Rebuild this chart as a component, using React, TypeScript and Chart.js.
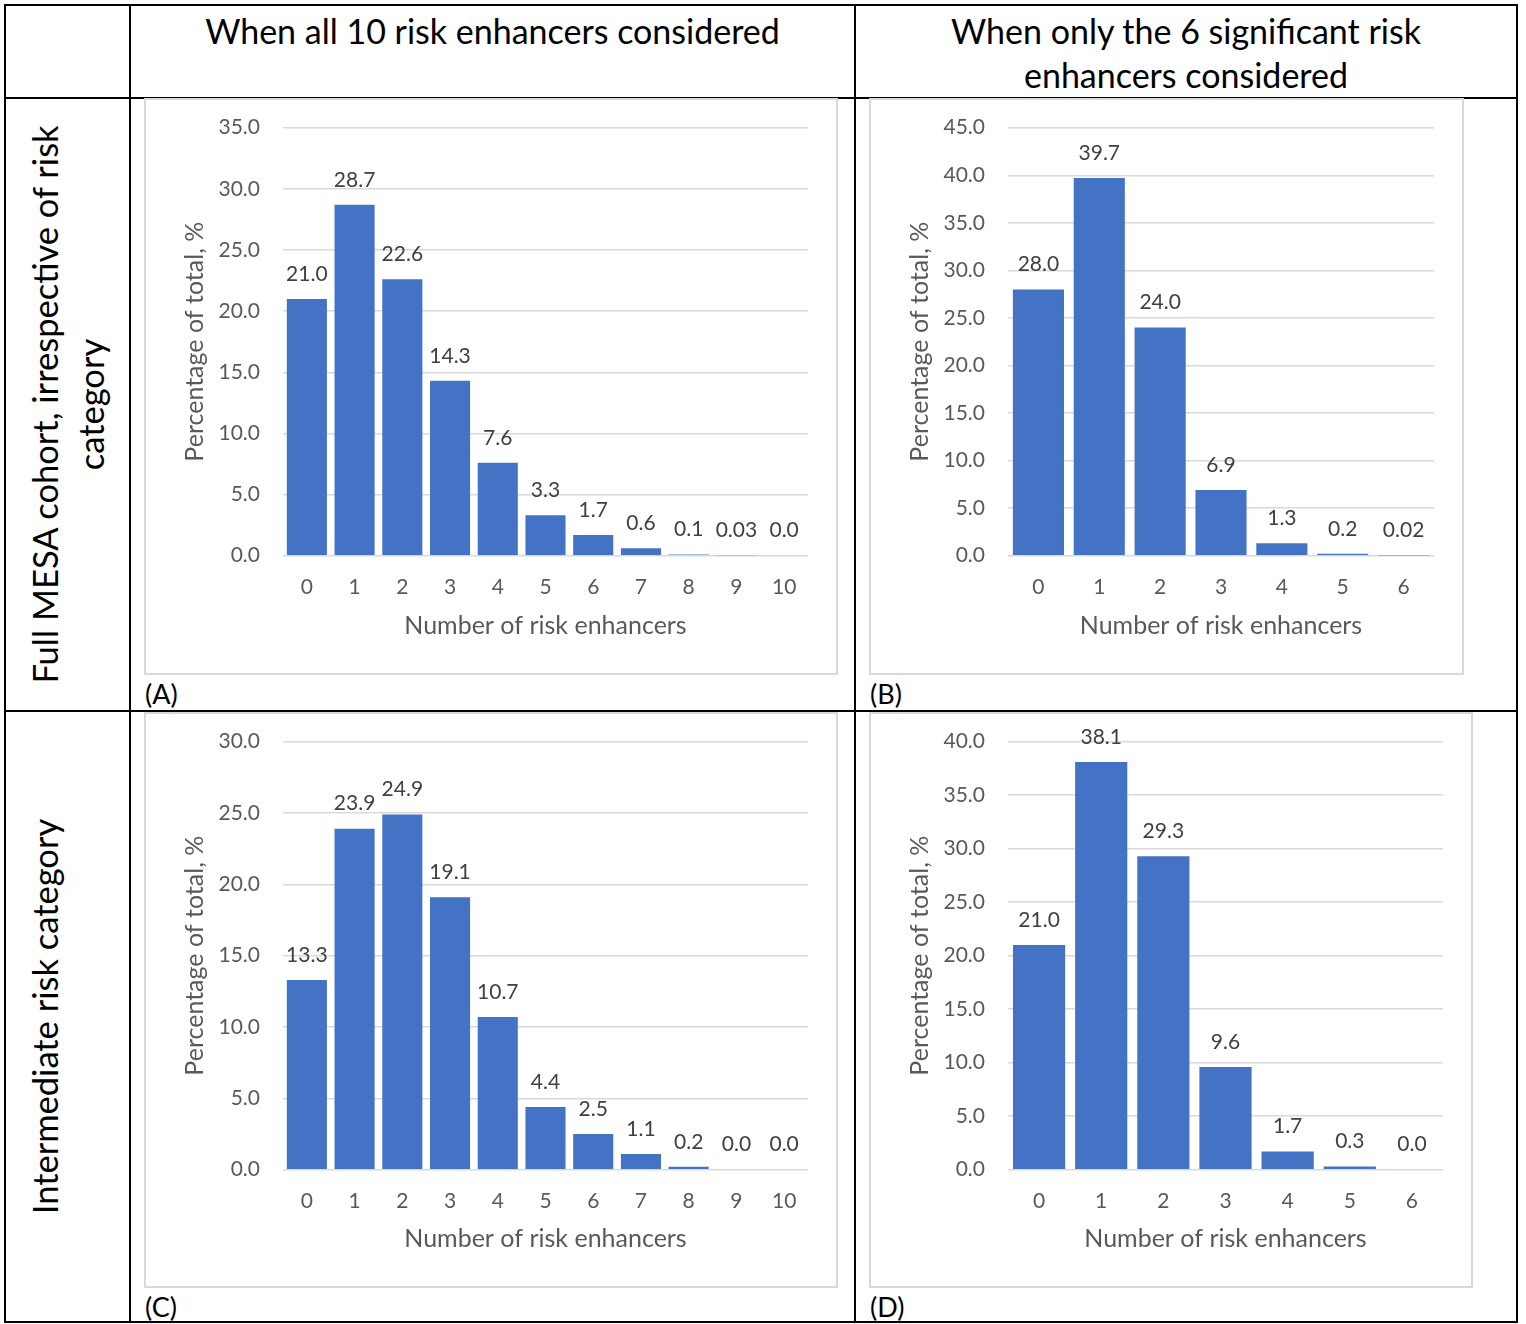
import React, { useEffect, useRef } from "react";
import { Chart, registerables } from "chart.js";

Chart.register(...registerables);

// ---- Data ----
const categoriesAll = ["0", "1", "2", "3", "4", "5", "6", "7", "8", "9", "10"];
const categoriesSig = ["0", "1", "2", "3", "4", "5", "6"];

const fullCohortAll = [21.0, 28.7, 22.6, 14.3, 7.6, 3.3, 1.7, 0.6, 0.1, 0.03, 0.0];
const fullCohortSig = [28.0, 39.7, 24.0, 6.9, 1.3, 0.2, 0.02];
const intermediateAll = [13.3, 23.9, 24.9, 19.1, 10.7, 4.4, 2.5, 1.1, 0.2, 0.0, 0.0];
const intermediateSig = [21.0, 38.1, 29.3, 9.6, 1.7, 0.3, 0.0];

const yMaxA = 35;
const yMaxB = 45;
const yMaxC = 30;
const yMaxD = 40;
const yStep = 5;

const colHeaders = [
  "When all 10 risk enhancers considered",
  "When only the 6 significant risk\nenhancers considered",
];
const rowHeaders = [
  "Full MESA cohort, irrespective of risk\ncategory",
  "Intermediate risk category",
];
const xTitle = "Number of risk enhancers";
const yTitle = "Percentage of total, %";
const panelLetters = ["(A)", "(B)", "(C)", "(D)"];

const FONT = "Lato, 'Open Sans', sans-serif";
const BAR_COLOR = "#4472C4";
const GRID_COLOR = "#d9d9d9";
const TICK_COLOR = "#595959";
const LABEL_COLOR = "#404040";

const fmt = (v: number) => (v > 0 && v < 0.05 ? v.toFixed(2) : v.toFixed(1));

const valueLabels = {
  id: "valueLabels",
  afterDatasetsDraw(chart: any) {
    const ctx = chart.ctx;
    const meta = chart.getDatasetMeta(0);
    const data = chart.data.datasets[0].data as number[];
    ctx.save();
    ctx.font = `21px ${FONT}`;
    ctx.fillStyle = LABEL_COLOR;
    ctx.textAlign = "center";
    ctx.textBaseline = "middle";
    meta.data.forEach((el: any, i: number) => {
      ctx.fillText(fmt(data[i]), el.x, el.y - 25);
    });
    ctx.restore();
  },
};

type Box = { left: number; top: number; width: number; height: number };

const PLOT_TOP = 29.7;
const PLOT_H = 428;
const Y_AXIS_W = 139;

function BarPanel({ labels, values, max, box }: { labels: string[]; values: number[]; max: number; box: Box }) {
  const ref = useRef<HTMLCanvasElement | null>(null);
  useEffect(() => {
    if (!ref.current) return;
    const chart = new Chart(ref.current, {
      type: "bar",
      data: {
        labels,
        datasets: [
          {
            data: values,
            backgroundColor: BAR_COLOR,
            categoryPercentage: 1,
            barPercentage: 0.84,
          },
        ],
      },
      options: {
        responsive: false,
        animation: false,
        layout: { padding: { top: PLOT_TOP, right: 30, left: 0, bottom: 0 } },
        plugins: { legend: { display: false }, tooltip: { enabled: false } },
        scales: {
          x: {
            grid: { display: false, drawTicks: false },
            border: { display: false },
            ticks: { color: TICK_COLOR, font: { family: FONT, size: 21 }, padding: 19 },
            title: {
              display: true,
              text: xTitle,
              color: TICK_COLOR,
              font: { family: FONT, size: 25 },
              padding: { top: 0, bottom: 34 },
            },
            afterFit: (s: any) => {
              s.height = box.height - PLOT_TOP - PLOT_H;
              s.paddingLeft = 0;
              s.paddingRight = 0;
            },
          },
          y: {
            min: 0,
            max,
            ticks: {
              stepSize: yStep,
              color: TICK_COLOR,
              font: { family: FONT, size: 21 },
              padding: 23,
              callback: (v: any) => Number(v).toFixed(1),
            },
            grid: { color: GRID_COLOR, lineWidth: 1.5, drawTicks: false },
            border: { display: false },
            title: {
              display: true,
              text: yTitle,
              color: TICK_COLOR,
              font: { family: FONT, size: 25 },
              padding: { top: 36, bottom: 0 },
            },
            afterFit: (s: any) => {
              s.width = Y_AXIS_W;
              s.paddingTop = 0;
              s.paddingBottom = 0;
            },
          },
        },
      },
      plugins: [valueLabels],
    } as any);
    return () => chart.destroy();
  }, []);
  return (
    <>
      <div
        style={{
          position: "absolute",
          left: box.left,
          top: box.top,
          width: box.width,
          height: box.height,
          border: `2px solid ${GRID_COLOR}`,
          boxSizing: "border-box",
        }}
      />
      <canvas
        ref={ref}
        width={box.width}
        height={box.height}
        style={{ position: "absolute", left: box.left, top: box.top, width: box.width, height: box.height }}
      />
    </>
  );
}

const line = (l: number, t: number, w: number, h: number, key: string) => (
  <div key={key} style={{ position: "absolute", left: l, top: t, width: w, height: h, background: "#000" }} />
);

function RowLabel({ text, cx, cy, cellW, cellH }: { text: string; cx: number; cy: number; cellW: number; cellH: number }) {
  return (
    <div
      style={{
        position: "absolute",
        left: cx - cellH / 2,
        top: cy - cellW / 2,
        width: cellH,
        height: cellW,
        transform: "rotate(-90deg)",
        transformOrigin: "50% 50%",
        boxSizing: "border-box",
        paddingTop: 17,
        textAlign: "center",
        fontFamily: FONT,
        fontSize: 34.5,
        lineHeight: "46px",
        color: "#000",
        whiteSpace: "pre-line",
      }}
    >
      {text}
    </div>
  );
}

export default function App() {
  const boxA = { left: 144, top: 98, width: 694, height: 577 };
  const boxB = { left: 869, top: 98, width: 595, height: 577 };
  const boxC = { left: 144, top: 712, width: 694, height: 576 };
  const boxD = { left: 869, top: 712, width: 604, height: 576 };
  const headerStyle: React.CSSProperties = {
    position: "absolute",
    top: 9,
    textAlign: "center",
    fontFamily: FONT,
    fontSize: 34,
    lineHeight: "44px",
    whiteSpace: "pre-line",
    color: "#000",
  };
  return (
    <div style={{ position: "absolute", left: 0, top: 0, width: 1526, height: 1324, background: "#fff", overflow: "hidden" }}>
      {/* table lines */}
      {line(4, 4, 2, 1319, "v0")}
      {line(129, 4, 2, 1319, "v1")}
      {line(854, 4, 2, 1319, "v2")}
      {line(1516, 4, 2, 1319, "v3")}
      {line(4, 4, 1514, 2, "h0")}
      {line(4, 97, 1514, 2, "h1")}
      {line(4, 710, 1514, 2, "h2")}
      {line(4, 1321, 1514, 2, "h3")}

      {/* column headers */}
      <div style={{ ...headerStyle, left: 130, width: 725 }}>{colHeaders[0]}</div>
      <div style={{ ...headerStyle, left: 855, width: 662 }}>{colHeaders[1]}</div>

      {/* row headers */}
      <RowLabel text={rowHeaders[0]} cx={67.5} cy={404.5} cellW={125} cellH={613} />
      <RowLabel text={rowHeaders[1]} cx={67.5} cy={1016.5} cellW={125} cellH={611} />

      {/* charts */}
      <BarPanel labels={categoriesAll} values={fullCohortAll} max={yMaxA} box={boxA} />
      <BarPanel labels={categoriesSig} values={fullCohortSig} max={yMaxB} box={boxB} />
      <BarPanel labels={categoriesAll} values={intermediateAll} max={yMaxC} box={boxC} />
      <BarPanel labels={categoriesSig} values={intermediateSig} max={yMaxD} box={boxD} />

      {/* panel letters */}
      {[
        [145, 678],
        [870, 678],
        [145, 1291],
        [870, 1291],
      ].map(([l, t], i) => (
        <div
          key={panelLetters[i]}
          style={{ position: "absolute", left: l, top: t, fontFamily: FONT, fontSize: 27, lineHeight: "32px", color: "#000" }}
        >
          {panelLetters[i]}
        </div>
      ))}
    </div>
  );
}
